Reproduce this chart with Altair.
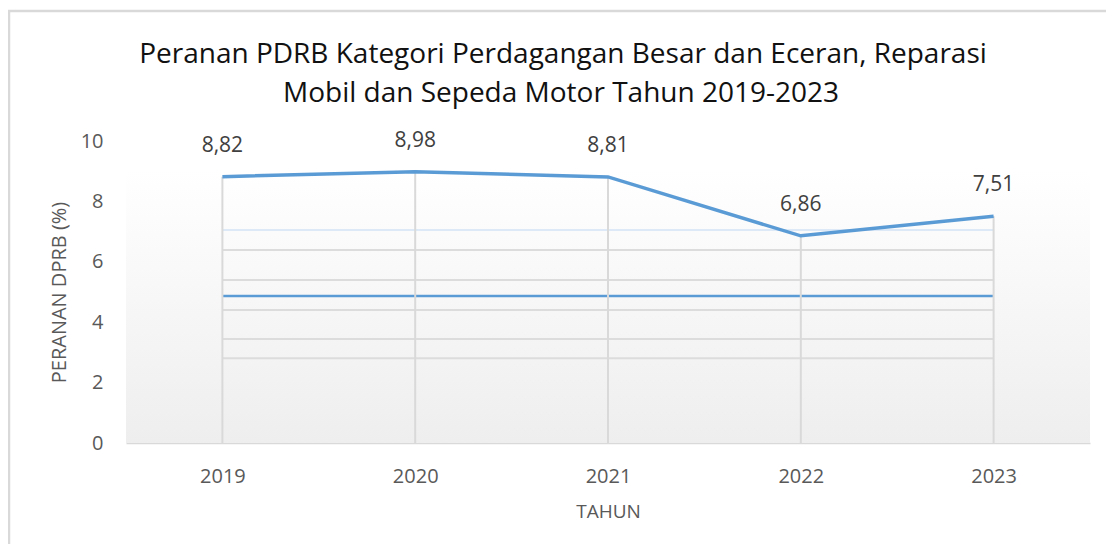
import altair as alt
import pandas as pd

# ---- data ----
years = ["2019", "2020", "2021", "2022", "2023"]
values = [8.82, 8.98, 8.81, 6.86, 7.51]
title_lines = ["Peranan PDRB Kategori Perdagangan Besar dan Eceran, Reparasi",
               "Mobil dan Sepeda Motor Tahun 2019-2023"]

# faint horizontal lines visible inside the plot area of the reference
grey_lines = [6.39, 5.40, 4.40, 3.44, 2.81]
blue_lines = [4.87]
pale_lines = [7.05]

W, H = 964, 302
FONT = "Open Sans"

df = pd.DataFrame({"year": years, "value": values})
df["label"] = [f"{v:.2f}".replace(".", ",") for v in values]
df["zero"] = 0.0

x_enc = alt.X("year:O", sort=years,
              scale=alt.Scale(type="point", padding=0.5),
              axis=alt.Axis(title="TAHUN", labelAngle=0, labelFontSize=20,
                            labelColor="#595959", labelPadding=23,
                            labelFont=FONT, titleFont=FONT,
                            titleFontSize=19, titleFontWeight="normal",
                            titleColor="#595959", titlePadding=16,
                            ticks=False, domain=True, domainColor="#d9d9d9",
                            domainWidth=1.5, grid=False))
y_scale = alt.Scale(domain=[0, 10])
y_enc = alt.Y("value:Q", scale=y_scale,
              axis=alt.Axis(title="PERANAN DPRB (%)", values=[0, 2, 4, 6, 8, 10],
                            labelFontSize=20, labelColor="#595959",
                            labelPadding=23, labelFont=FONT, titleFont=FONT,
                            titleFontSize=20, titleFontWeight="normal",
                            titleColor="#595959", titlePadding=11,
                            ticks=False, domain=False, grid=False))

base = alt.Chart(df)
one = pd.DataFrame({"k": [0]})

# outer frame of the chart (decoration)
frame = alt.Chart(one).mark_rect(
    fillOpacity=0, stroke="#d9d9d9", strokeWidth=2.5
).encode(x=alt.value(-117), x2=alt.value(W + 300),
         y=alt.value(-130), y2=alt.value(H + 300))

# plot-area gradient background (decoration)
bg = alt.Chart(one).mark_rect(
    color=alt.Gradient(gradient="linear", x1=0, x2=0, y1=0, y2=1,
                       stops=[alt.GradientStop(color="#ffffff", offset=0),
                              alt.GradientStop(color="#eeeeee", offset=1)])
).encode(x=alt.value(0), x2=alt.value(W), y=alt.value(30), y2=alt.value(H))

hgrey = alt.Chart(pd.DataFrame({"v": grey_lines})).mark_rule(
    color="#dcdcdc", strokeWidth=2).encode(
    x=alt.value(W * 0.1), x2=alt.value(W * 0.9),
    y=alt.Y("v:Q", scale=y_scale))
hblue = alt.Chart(pd.DataFrame({"v": blue_lines})).mark_rule(
    color="#5b9bd5", strokeWidth=2.5).encode(
    x=alt.value(W * 0.1), x2=alt.value(W * 0.9),
    y=alt.Y("v:Q", scale=y_scale))
hpale = alt.Chart(pd.DataFrame({"v": pale_lines})).mark_rule(
    color="#dde9f6", strokeWidth=2).encode(
    x=alt.value(W * 0.1), x2=alt.value(W * 0.9),
    y=alt.Y("v:Q", scale=y_scale))

vgrid = base.mark_rule(color="#d9d9d9", strokeWidth=2).encode(
    x=x_enc, y=alt.Y("zero:Q", scale=y_scale), y2="value:Q")

line = base.mark_line(color="#5b9bd5", strokeWidth=3.5).encode(x=x_enc, y=y_enc)

labels = base.mark_text(font=FONT, fontSize=21, color="#404040",
                        baseline="middle", dy=-31).encode(
    x=x_enc, y="value:Q", text="label:N")

title1 = alt.Chart(pd.DataFrame({"t": [title_lines[0]]})).mark_text(
    font=FONT, fontSize=28, color="#111111", align="center",
    baseline="alphabetic").encode(x=alt.value(437), y=alt.value(-78), text="t:N")
title2 = alt.Chart(pd.DataFrame({"t": [title_lines[1]]})).mark_text(
    font=FONT, fontSize=28, color="#111111", align="center",
    baseline="alphabetic").encode(x=alt.value(435), y=alt.value(-39), text="t:N")

chart = alt.layer(frame, bg, hgrey, hpale, hblue, vgrid, line, labels,
                  title1, title2).properties(
    width=W, height=H,
    autosize=alt.AutoSizeParams(type="none"),
    padding={"left": 118, "top": 133, "right": 16, "bottom": 101},
).configure_view(stroke=None)

chart.save("out.html", embed_options={"renderer": "svg", "actions": False})
